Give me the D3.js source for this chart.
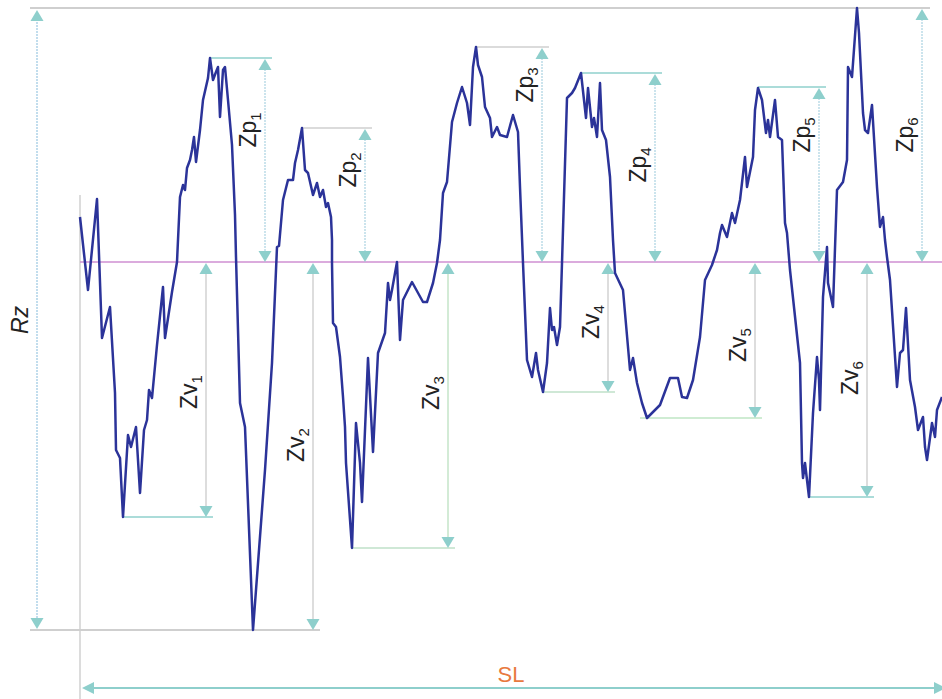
<!DOCTYPE html>
<html><head><meta charset="utf-8">
<script src="https://cdn.jsdelivr.net/npm/d3@7"></script>
<style>html,body{margin:0;padding:0;background:#fff;}svg{display:block;}</style>
</head><body>
<svg id="c" width="942" height="699"></svg>
<script>
// Profile: distance along sampling length, height relative to mean line
const profileDist = [0,8,17,22,30,35,36,40,43,48,51,56,60,64,67,69,72,77,83,85,92,97,98,100,103,105,107,110,112,114,116,120,123,128,130,133,136,138,140,143,145,148,152,155,156,160,165,173,185,192,197,199,203,208,213,215,218,222,225,228,233,237,240,243,246,248,251,252,252,253,256,260,263,265,266,272,276,280,282,288,293,298,305,308,310,312,317,320,323,332,343,347,353,357,360,363,367,372,377,382,387,390,393,396,398,402,405,410,412,417,420,427,433,438,440,443,447,452,456,458,463,467,470,472,474,477,480,482,487,492,495,501,506,508,512,514,517,520,522,526,530,533,535,543,550,553,557,562,567,580,590,598,602,607,613,620,625,632,637,640,642,647,652,655,660,665,667,673,675,678,682,686,688,690,695,698,702,705,707,710,720,722,723,725,729,733,737,739,740,743,747,748,753,757,763,767,768,772,777,779,783,785,788,792,797,800,803,805,807,810,817,820,823,826,830,835,838,843,845,847,852,855,857,862];
const profileHeight = [45,-28,63,-76,-45,-131,-188,-196,-255,-173,-185,-165,-231,-168,-158,-128,-136,-83,-25,-76,-30,0,22,65,77,72,94,102,112,125,100,132,162,184,204,182,190,195,145,192,195,162,117,47,5,-141,-165,-368,-208,-101,15,16,62,82,82,99,112,134,92,89,67,79,65,72,55,59,45,22,-1,-61,-65,-95,-135,-165,-201,-286,-161,-201,-240,-96,-190,-91,-71,-21,-38,-28,0,-78,-38,-20,-40,-40,-21,-1,22,69,80,140,159,175,159,137,195,215,197,185,155,144,125,135,127,125,147,130,75,-1,-98,-115,-91,-108,-130,-101,-46,-68,-65,-83,-65,-1,164,169,174,189,144,174,135,144,125,179,132,122,85,22,-11,-28,-108,-96,-121,-141,-156,-143,-116,-116,-135,-136,-118,-75,-18,-3,12,29,37,25,49,39,62,105,75,105,152,174,162,129,142,125,162,125,122,39,29,-8,-101,-201,-216,-201,-235,-151,-95,-118,-148,-35,15,-21,-45,72,80,102,195,185,254,229,149,132,129,157,75,35,45,22,5,-18,-125,-91,-88,-46,-118,-145,-168,-155,-185,-198,-161,-175,-148,-135];

// Peaks (Zp) and valleys (Zv)
const peakNames = ["1","2","3","4","5","6"];
const peakArrowDist = [185,285,462,575,739,842];
const peakHeight = [204,134,215,189,175,254];
const peakStartDist = [130,222,396,501,678,-50];
const valleyNames = ["1","2","3","4","5","6"];
const valleyArrowDist = [126,233,368,528,675,787];
const valleyDepth = [-255,-368,-286,-130,-156,-235];
const valleyStartDist = [43,-50,272,463,560,729];
const samplingLength = 862;

// layout (label placement)
const peakLabelH = [132,92,177,97,127,127];
const valleyLabelH = [-130,-183,-131,-60,-83,-116];
const peakLineColor = ["#8fd0cc","#cfcfcf","#cfcfcf","#8fd0cc","#8fd0cc","#cfcfcf"];
const valleyLineColor = ["#8fd0cc","#cfcfcf","#bfe0c8","#bfe0c8","#bfe6c4","#8fd0cc"];

const svg = d3.select("#c");
const x = d3.scaleLinear().domain([0, 862]).range([80, 942]);
const y = d3.scaleLinear().domain([-368, 254]).range([630, 8]);
const headC = "#8ecfcc";

function headUp(cx, tipY){ return `M${cx},${tipY}L${cx-6.5},${tipY+11}L${cx+6.5},${tipY+11}Z`; }
function headDown(cx, tipY){ return `M${cx},${tipY}L${cx-6.5},${tipY-11}L${cx+6.5},${tipY-11}Z`; }

// left reference vertical line
svg.append("line").attr("x1",x(0)).attr("x2",x(0)).attr("y1",195).attr("y2",699)
  .attr("stroke","#d4d4d4").attr("stroke-width",1.6);
// top and bottom reference lines
svg.append("line").attr("x1",x(-50)).attr("x2",x(850)).attr("y1",y(254)).attr("y2",y(254))
  .attr("stroke","#cfcfcf").attr("stroke-width",2);
svg.append("line").attr("x1",x(-50)).attr("x2",x(240)).attr("y1",y(-368)).attr("y2",y(-368))
  .attr("stroke","#cfcfcf").attr("stroke-width",2);

// mean line
svg.append("line").attr("x1",x(0)).attr("x2",x(samplingLength)).attr("y1",y(0)).attr("y2",y(0))
  .attr("stroke","#cf8fd2").attr("stroke-width",1.6);

// Rz arrow
const rzX = x(-43);
svg.append("line").attr("x1",rzX).attr("x2",rzX).attr("y1",y(254)+8).attr("y2",y(-368)-8)
  .attr("stroke","#a9cfe6").attr("stroke-width",1.4).attr("stroke-dasharray","2,1");
svg.append("path").attr("d",headUp(rzX,y(254)+2)).attr("fill",headC);
svg.append("path").attr("d",headDown(rzX,y(-368)-1)).attr("fill",headC);
svg.append("text").attr("transform",`translate(${rzX-9},${y(-58)}) rotate(-90)`)
  .attr("text-anchor","middle").attr("font-family","Liberation Sans, Arial, sans-serif")
  .attr("font-size",23).attr("font-style","italic").attr("fill","#222").text("Rz");

// peak annotations
peakNames.forEach((n,i)=>{
  const ax = x(peakArrowDist[i]);
  if (i < 5) {
    svg.append("line").attr("x1",x(peakStartDist[i])).attr("x2",ax+7)
      .attr("y1",y(peakHeight[i])).attr("y2",y(peakHeight[i]))
      .attr("stroke",peakLineColor[i]).attr("stroke-width",1.6);
  }
  svg.append("line").attr("x1",ax).attr("x2",ax).attr("y1",y(peakHeight[i])+8).attr("y2",y(0)-8)
    .attr("stroke","#b7d9e6").attr("stroke-width",1.4).attr("stroke-dasharray","2,1");
  svg.append("path").attr("d",headUp(ax,y(peakHeight[i])+1)).attr("fill",headC);
  svg.append("path").attr("d",headDown(ax,y(0))).attr("fill",headC);
  const t = svg.append("text").attr("transform",`translate(${ax-9},${y(peakLabelH[i])}) rotate(-90)`)
    .attr("text-anchor","middle").attr("font-family","Liberation Sans, Arial, sans-serif")
    .attr("font-size",23).attr("fill","#222");
  t.append("tspan").text("Zp");
  t.append("tspan").attr("font-size",15).attr("dy",5).text(n);
});

// valley annotations
valleyNames.forEach((n,i)=>{
  const ax = x(valleyArrowDist[i]);
  if (i !== 1) {
    svg.append("line").attr("x1",x(valleyStartDist[i])).attr("x2",ax+7)
      .attr("y1",y(valleyDepth[i])).attr("y2",y(valleyDepth[i]))
      .attr("stroke",valleyLineColor[i]).attr("stroke-width",1.6);
  }
  svg.append("line").attr("x1",ax).attr("x2",ax).attr("y1",y(0)+8).attr("y2",y(valleyDepth[i])-8)
    .attr("stroke", i===2 ? "#c4e4c8" : "#d2d2d2").attr("stroke-width",1.5);
  svg.append("path").attr("d",headUp(ax,y(0)+1)).attr("fill",headC);
  svg.append("path").attr("d",headDown(ax,y(valleyDepth[i]))).attr("fill",headC);
  const t = svg.append("text").attr("transform",`translate(${ax-9},${y(valleyLabelH[i])}) rotate(-90)`)
    .attr("text-anchor","middle").attr("font-family","Liberation Sans, Arial, sans-serif")
    .attr("font-size",23).attr("fill","#222");
  t.append("tspan").text("Zv");
  t.append("tspan").attr("font-size",15).attr("dy",5).text(n);
});

// SL arrow
const slY = 688;
svg.append("line").attr("x1",x(0)+4).attr("x2",942).attr("y1",slY).attr("y2",slY)
  .attr("stroke","#8ecfcc").attr("stroke-width",2);
svg.append("path").attr("d",`M${x(0)+2},${slY}L${x(0)+14},${slY-6}L${x(0)+14},${slY+6}Z`).attr("fill",headC);
svg.append("path").attr("d",`M${x(samplingLength)+4},${slY}L${x(samplingLength)-8},${slY-6}L${x(samplingLength)-8},${slY+6}Z`).attr("fill",headC);
svg.append("text").attr("x",x(samplingLength/2)).attr("y",slY-6).attr("text-anchor","middle")
  .attr("font-family","Liberation Sans, Arial, sans-serif").attr("font-size",22)
  .attr("fill","#e8793f").text("SL");

// profile line
const line = d3.line().x((d,i)=>x(profileDist[i])).y((d,i)=>y(profileHeight[i]));
svg.append("path").datum(profileDist).attr("d",line).attr("fill","none")
  .attr("stroke","#2b3399").attr("stroke-width",2.5).attr("stroke-linejoin","round");
</script>
</body></html>
